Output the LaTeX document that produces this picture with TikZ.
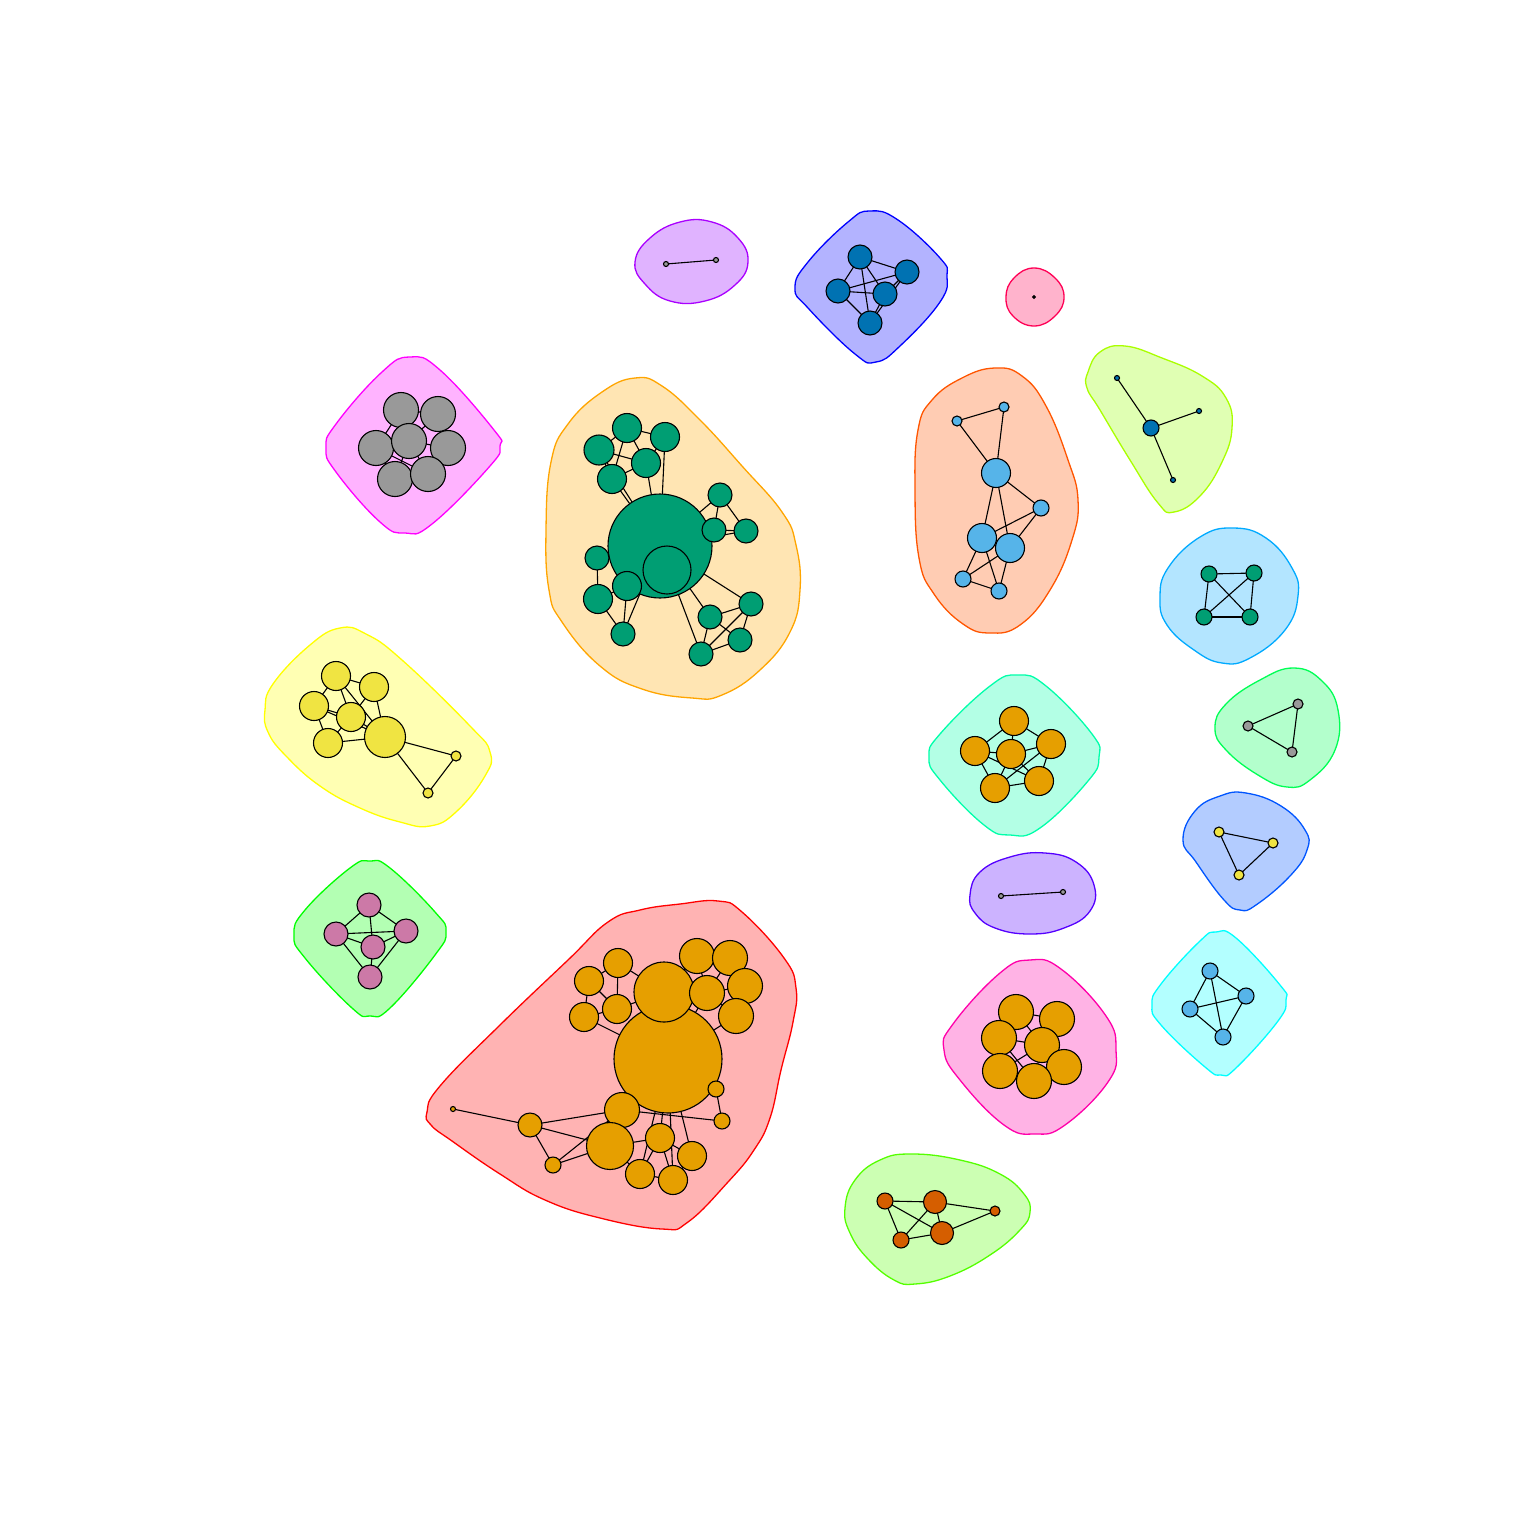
\documentclass[tikz,border=0pt]{standalone}
\pgfdeclarelayer{blobs}
\pgfdeclarelayer{edges}
\pgfsetlayers{blobs,edges,main}
\definecolor{cgreen}{HTML}{009E73}
\definecolor{corange}{HTML}{E69F00}
\definecolor{cgray}{HTML}{999999}
\definecolor{cblue}{HTML}{0072B2}
\definecolor{csky}{HTML}{56B4E9}
\definecolor{cyellow}{HTML}{F0E442}
\definecolor{cverm}{HTML}{D55E00}
\definecolor{cpink}{HTML}{CC79A7}
% blob fills / borders
\definecolor{fOr}{HTML}{FFE5B3}\definecolor{bOr}{HTML}{FFA500}
\definecolor{fRe}{HTML}{FFB3B3}\definecolor{bRe}{HTML}{FF0000}
\definecolor{fMa}{HTML}{FFB3FF}\definecolor{bMa}{HTML}{FF00FF}
\definecolor{fBl}{HTML}{B3B3FF}\definecolor{bBl}{HTML}{0000FF}
\definecolor{fPu}{HTML}{E0B3FF}\definecolor{bPu}{HTML}{AA00FF}
\definecolor{fRo}{HTML}{FFB3CC}\definecolor{bRo}{HTML}{FF0055}
\definecolor{fYg}{HTML}{E0FFB3}\definecolor{bYg}{HTML}{AAFF00}
\definecolor{fSa}{HTML}{FFCCB3}\definecolor{bSa}{HTML}{FF5500}
\definecolor{fLb}{HTML}{B3E5FF}\definecolor{bLb}{HTML}{00AAFF}
\definecolor{fGt}{HTML}{B3FFCC}\definecolor{bGt}{HTML}{00FF55}
\definecolor{fBt}{HTML}{B3CCFF}\definecolor{bBt}{HTML}{0055FF}
\definecolor{fCy}{HTML}{B3FFFF}\definecolor{bCy}{HTML}{00FFFF}
\definecolor{fPo}{HTML}{FFB3E5}\definecolor{bPo}{HTML}{FF00AA}
\definecolor{fMi}{HTML}{B3FFE5}\definecolor{bMi}{HTML}{00FFAA}
\definecolor{fLa}{HTML}{CCB3FF}\definecolor{bLa}{HTML}{5500FF}
\definecolor{fLi}{HTML}{CCFFB3}\definecolor{bLi}{HTML}{55FF00}
\definecolor{fGr}{HTML}{B3FFB3}\definecolor{bGr}{HTML}{00FF00}
\definecolor{fYe}{HTML}{FFFFB3}\definecolor{bYe}{HTML}{FFFF00}
\newcommand\mkv[5]{\node[vtx,fill=#1,minimum size=#5pt] (#2) at (#3,#4) {};}
\newcommand\mkblob[3]{\begin{pgfonlayer}{blobs}\filldraw[fill=#1,draw=#2,line width=1.3pt] plot[smooth cycle,tension=0.75] coordinates {#3};\end{pgfonlayer}}
\newcommand\mkedges[1]{\begin{pgfonlayer}{edges}\foreach \a/\b in {#1} \draw[edg] (\a.center) -- (\b.center);\end{pgfonlayer}}
\begin{document}
\begin{tikzpicture}[x=1pt,y=-1pt,
  vtx/.style={circle,draw=black,line width=1.1pt,inner sep=0pt},
  edg/.style={draw=black,line width=1.1pt}]
\useasboundingbox (0,0) rectangle (1536,1536);

% ---------- blobs ----------
\mkblob{fPu}{bPu}{(635,262) (650,238) (680,222) (712,222) (738,238) (748,262) (735,285) (705,301) (670,301) (645,284)}
\mkblob{fBl}{bBl}{(795,288) (808,262) (848,222) (870,211) (898,220) (940,258) (947,276) (940,302) (900,346) (876,362) (855,354) (808,308)}
\mkblob{fRo}{bRo}{(1006,297) (1014,278) (1034,268) (1055,278) (1064,297) (1055,316) (1034,326) (1013,316)}
\mkblob{fMa}{bMa}{(326,448) (336,424) (382,372) (410,357) (440,370) (494,430) (500,446) (490,466) (432,524) (405,533) (380,522) (336,472)}
\mkblob{fOr}{bOr}{(635,378) (662,386) (700,420) (742,466) (782,512) (796,545) (800,590) (790,632) (760,670) (722,695) (692,698) (642,689) (600,666) (562,622) (549,590) (546,530) (551,462) (568,424) (602,392)}
\mkblob{fSa}{bSa}{(995,368) (1022,376) (1046,406) (1068,460) (1078,500) (1072,540) (1050,590) (1020,625) (990,633) (963,624) (934,594) (919,558) (915,490) (918,430) (932,400) (962,378)}
\mkblob{fYg}{bYg}{(1088,372) (1100,352) (1125,346) (1162,358) (1202,376) (1226,398) (1232,428) (1222,462) (1200,496) (1174,512) (1158,503) (1130,460) (1100,410) (1087,388)}
\mkblob{fLb}{bLb}{(1160,598) (1168,568) (1200,537) (1233,528) (1266,538) (1292,568) (1298,596) (1285,630) (1250,658) (1222,663) (1194,650) (1167,625)}
\mkblob{fGt}{bGt}{(1215,728) (1226,704) (1260,680) (1294,668) (1322,681) (1338,710) (1335,750) (1310,780) (1287,787) (1258,775) (1226,750)}
\mkblob{fBt}{bBt}{(1183,840) (1195,811) (1220,796) (1246,793) (1281,806) (1305,830) (1307,850) (1290,876) (1256,905) (1240,910) (1224,900) (1196,862)}
\mkblob{fCy}{bCy}{(1152,1005) (1161,984) (1200,941) (1216,932) (1236,938) (1280,985) (1286,1000) (1278,1021) (1236,1068) (1221,1075) (1205,1067) (1161,1025)}
\mkblob{fMi}{bMi}{(929,757) (940,734) (990,686) (1018,675) (1046,686) (1092,734) (1099,757) (1088,781) (1040,828) (1010,835) (984,825) (940,780)}
\mkblob{fLa}{bLa}{(970,895) (980,872) (1010,857) (1045,853) (1076,862) (1094,885) (1090,911) (1064,928) (1030,934) (995,928) (975,913)}
\mkblob{fPo}{bPo}{(944,1050) (953,1024) (1000,973) (1030,960) (1061,969) (1106,1016) (1116,1050) (1108,1082) (1065,1125) (1035,1134) (1004,1125) (960,1080)}
\mkblob{fLi}{bLi}{(845,1208) (855,1180) (880,1160) (912,1154) (960,1160) (1000,1174) (1024,1194) (1030,1212) (1020,1230) (990,1255) (950,1276) (915,1284) (894,1280) (868,1259) (850,1233)}
\mkblob{fGr}{bGr}{(294,935) (305,910) (350,868) (370,861) (390,868) (435,912) (446,932) (435,955) (390,1008) (370,1016) (352,1008) (305,958)}
\mkblob{fYe}{bYe}{(265,710) (273,684) (310,645) (340,628) (366,634) (402,660) (470,726) (490,752) (485,776) (456,812) (430,826) (400,822) (360,808) (320,786) (286,756) (268,732)}
\mkblob{fRe}{bRe}{(427,1112) (440,1086) (500,1025) (568,960) (608,922) (640,910) (680,904) (718,901) (742,912) (784,958) (796,988) (793,1022) (781,1070) (770,1118) (754,1150) (728,1182) (688,1222) (662,1229) (600,1218) (545,1200) (500,1174) (452,1141) (431,1125)}

% ---------- green cluster ----------
\mkv{cgreen}{GB}{660}{546}{104}
\mkv{cgreen}{GI}{667}{570}{48}
\mkv{cgreen}{G1}{627}{428}{29}
\mkv{cgreen}{G2}{665}{437}{29}
\mkv{cgreen}{G3}{599}{450}{30}
\mkv{cgreen}{G4}{646}{463}{29}
\mkv{cgreen}{G5}{612}{479}{29}
\mkv{cgreen}{G6}{720}{495}{24}
\mkv{cgreen}{G7}{714}{530}{24}
\mkv{cgreen}{G8}{746}{531}{24}
\mkv{cgreen}{G9}{597}{558}{24}
\mkv{cgreen}{G10}{627}{586}{29}
\mkv{cgreen}{G11}{598}{599}{29}
\mkv{cgreen}{G12}{623}{634}{24}
\mkv{cgreen}{G13}{710}{617}{24}
\mkv{cgreen}{G14}{751}{604}{24}
\mkv{cgreen}{G15}{740}{640}{24}
\mkv{cgreen}{G16}{701}{654}{24}
\mkedges{G1/G3,G1/G2,G1/G4,G3/G4,G3/G5,G2/G4,G4/G5,G1/G5,G5/GB,G3/GB,G4/GB,G2/GB,
 G6/G7,G6/G8,G7/G8,G6/GB,G7/GB,G8/GB,G9/G11,G9/GB,G10/GB,G11/G10,G11/G12,G10/G12,G12/GB,
 G13/G14,G13/G16,G13/G15,G14/G15,G14/G16,G15/G16,GB/G14,GB/G13,GB/G16}

% ---------- red cluster ----------
\mkv{corange}{O6}{668}{1059}{108}
\mkv{corange}{O5}{664}{992}{60}
\mkv{corange}{O1}{618}{963}{29}
\mkv{corange}{O2}{589}{981}{29}
\mkv{corange}{O3}{617}{1009}{29}
\mkv{corange}{O4}{584}{1017}{29}
\mkv{corange}{O7}{697}{956}{35}
\mkv{corange}{O8}{730}{958}{35}
\mkv{corange}{O9}{745}{986}{35}
\mkv{corange}{O11}{736}{1016}{35}
\mkv{corange}{O10}{707}{993}{35}
\mkv{corange}{O12}{716}{1089}{16}
\mkv{corange}{O13}{722}{1121}{16}
\mkv{corange}{O14}{622}{1110}{35}
\mkv{corange}{O15}{530}{1125}{24}
\mkv{corange}{O16}{453}{1109}{5}
\mkv{corange}{O17}{553}{1165}{16}
\mkv{corange}{O18}{610}{1146}{47}
\mkv{corange}{O19}{660}{1138}{29}
\mkv{corange}{O20}{692}{1156}{29}
\mkv{corange}{O21}{640}{1174}{29}
\mkv{corange}{O22}{673}{1180}{29}
\mkedges{O16/O15,O15/O14,O15/O18,O15/O17,O17/O18,O17/O14,O1/O2,O1/O3,O2/O3,O2/O4,O3/O4,O1/O5,O3/O5,O4/O6,
 O5/O7,O5/O10,O7/O8,O7/O10,O8/O10,O8/O9,O9/O10,O9/O11,O10/O11,O11/O6,O10/O6,O5/O6,
 O6/O12,O12/O13,O14/O13,O6/O19,O6/O20,O6/O14,O6/O21,O6/O22,O19/O18,O19/O21,O19/O22,O20/O22,O20/O19,O21/O22,O18/O21,O18/O14}

% ---------- gray cluster ----------
\mkv{cgray}{A1}{401}{410}{35}
\mkv{cgray}{A2}{438}{414}{35}
\mkv{cgray}{A3}{376}{448}{35}
\mkv{cgray}{A5}{448}{448}{35}
\mkv{cgray}{A6}{395}{479}{35}
\mkv{cgray}{A7}{428}{474}{35}
\mkv{cgray}{A4}{409}{441}{35}
\mkedges{A1/A4,A2/A4,A3/A4,A4/A5,A4/A6,A4/A7,A6/A7,A5/A7,A1/A2,A3/A6,A2/A5,A1/A3,A3/A7}

% ---------- blue top ----------
\mkv{cblue}{B1}{860}{257}{24}
\mkv{cblue}{B2}{907}{272}{24}
\mkv{cblue}{B3}{838}{291}{24}
\mkv{cblue}{B4}{885}{294}{24}
\mkv{cblue}{B5}{870}{323}{24}
\mkedges{B1/B2,B1/B3,B1/B4,B1/B5,B3/B2,B3/B4,B3/B5,B4/B2,B4/B5,B2/B5}

% ---------- purple pair, pink single ----------
\mkv{cgray}{U1}{666}{264}{5}
\mkv{cgray}{U2}{716}{260}{5}
\mkedges{U1/U2}
\mkv{cblue}{R1}{1034}{297}{2.5}

% ---------- salmon ----------
\mkv{csky}{S1}{957}{421}{10}
\mkv{csky}{S2}{1004}{407}{10}
\mkv{csky}{S3}{996}{473}{29}
\mkv{csky}{S4}{1041}{508}{16}
\mkv{csky}{S5}{982}{538}{29}
\mkv{csky}{S6}{1010}{548}{29}
\mkv{csky}{S7}{963}{579}{16}
\mkv{csky}{S8}{999}{591}{16}
\mkedges{S1/S2,S1/S3,S2/S3,S3/S4,S3/S5,S3/S6,S4/S5,S4/S6,S5/S7,S5/S8,S6/S7,S6/S8,S7/S8,S5/S6}

% ---------- star ----------
\mkv{cblue}{T0}{1151}{428}{16}
\mkv{cblue}{T1}{1117}{378}{5}
\mkv{cblue}{T2}{1199}{411}{5}
\mkv{cblue}{T3}{1173}{480}{5}
\mkedges{T0/T1,T0/T2,T0/T3}

% ---------- light blue K4 ----------
\mkv{cgreen}{Q1}{1209}{574}{16}
\mkv{cgreen}{Q2}{1254}{573}{16}
\mkv{cgreen}{Q3}{1204}{617}{16}
\mkv{cgreen}{Q4}{1250}{617}{16}
\mkedges{Q1/Q2,Q1/Q3,Q1/Q4,Q2/Q3,Q2/Q4,Q3/Q4}

% ---------- green triangle ----------
\mkv{cgray}{W1}{1298}{704}{10}
\mkv{cgray}{W2}{1248}{726}{10}
\mkv{cgray}{W3}{1292}{752}{10}
\mkedges{W1/W2,W1/W3,W2/W3}

% ---------- mint ----------
\mkv{corange}{M1}{1014}{721}{29}
\mkv{corange}{M2}{975}{751}{29}
\mkv{corange}{M4}{1051}{744}{29}
\mkv{corange}{M5}{995}{788}{29}
\mkv{corange}{M6}{1039}{781}{29}
\mkv{corange}{M3}{1011}{754}{29}
\mkedges{M1/M2,M1/M4,M1/M3,M2/M3,M2/M5,M2/M6,M3/M4,M3/M5,M3/M6,M4/M6,M5/M6,M4/M5}

% ---------- blue yellow tri ----------
\mkv{cyellow}{X1}{1219}{832}{10}
\mkv{cyellow}{X2}{1273}{843}{10}
\mkv{cyellow}{X3}{1239}{875}{10}
\mkedges{X1/X2,X1/X3,X2/X3}

% ---------- lavender pair ----------
\mkv{cgray}{V1}{1001}{896}{5}
\mkv{cgray}{V2}{1063}{892}{5}
\mkedges{V1/V2}

% ---------- cyan K4 ----------
\mkv{csky}{C1}{1210}{971}{16}
\mkv{csky}{C2}{1246}{996}{16}
\mkv{csky}{C3}{1190}{1009}{16}
\mkv{csky}{C4}{1223}{1037}{16}
\mkedges{C1/C2,C1/C3,C1/C4,C2/C3,C2/C4,C3/C4}

% ---------- pink orange ----------
\mkv{corange}{P1}{1016}{1012}{35}
\mkv{corange}{P2}{1057}{1019}{35}
\mkv{corange}{P3}{999}{1038}{35}
\mkv{corange}{P4}{1042}{1045}{35}
\mkv{corange}{P5}{1000}{1071}{35}
\mkv{corange}{P6}{1064}{1067}{35}
\mkv{corange}{P7}{1034}{1081}{35}
\mkedges{P1/P2,P1/P3,P1/P4,P3/P4,P3/P5,P4/P5,P4/P6,P4/P7,P5/P7,P6/P7,P2/P4,P3/P7}

% ---------- lime bottom ----------
\mkv{cverm}{L1}{885}{1201}{16}
\mkv{cverm}{L2}{935}{1202}{23}
\mkv{cverm}{L3}{995}{1211}{10}
\mkv{cverm}{L4}{901}{1240}{16}
\mkv{cverm}{L5}{942}{1233}{23}
\mkedges{L1/L2,L1/L4,L1/L5,L2/L3,L2/L4,L2/L5,L4/L5,L5/L3}

% ---------- green pink ----------
\mkv{cpink}{K1}{369}{905}{24}
\mkv{cpink}{K2}{336}{934}{24}
\mkv{cpink}{K3}{406}{931}{24}
\mkv{cpink}{K4}{373}{947}{24}
\mkv{cpink}{K5}{370}{977}{24}
\mkedges{K1/K2,K1/K3,K1/K4,K2/K3,K2/K4,K2/K5,K3/K4,K3/K5,K4/K5}

% ---------- yellow ----------
\mkv{cyellow}{Y1}{336}{676}{29}
\mkv{cyellow}{Y2}{374}{687}{29}
\mkv{cyellow}{Y3}{314}{706}{29}
\mkv{cyellow}{Y4}{351}{717}{29}
\mkv{cyellow}{Y5}{328}{743}{29}
\mkv{cyellow}{Y6}{385}{737}{41}
\mkv{cyellow}{Y7}{456}{756}{10}
\mkv{cyellow}{Y8}{428}{793}{10}
\mkedges{Y1/Y2,Y1/Y3,Y1/Y4,Y1/Y6,Y2/Y4,Y2/Y6,Y3/Y4,Y3/Y5,Y4/Y5,Y4/Y6,Y5/Y6,Y6/Y7,Y6/Y8,Y7/Y8,Y3/Y6}
\end{tikzpicture}
\end{document}
